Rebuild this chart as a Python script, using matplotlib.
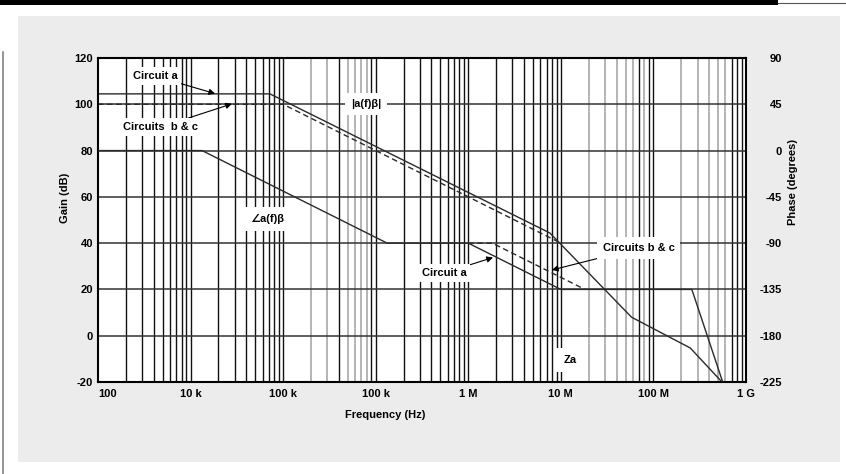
import matplotlib
matplotlib.use("Agg")
import matplotlib.pyplot as plt
from matplotlib.patches import Rectangle
from matplotlib.lines import Line2D

# Loop gain |a(f)β| in dB versus frequency in Hz
gain_a_freq = [1e2, 7.2e3, 7.6e6, 1.0e7, 5.8e7, 2.5e8, 5.5e8]
gain_a_db = [104.5, 104.5, 44.4, 39.5, 8.0, -5.3, -20.0]
gain_bc_freq = [1e2, 1.0e4, 1.0e7]
gain_bc_db = [100.0, 100.0, 40.0]

# Loop phase ∠a(f)β in degrees
phase_a_freq = [1e2, 1.33e3, 1.33e5, 1.0e6, 1.0e7, 2.6e8, 5.6e8]
phase_a_deg = [0, 0, -90, -90, -135, -135, -225]
phase_bc_freq = [1.0e6, 1.82e6, 1.82e7]
phase_bc_deg = [-90, -90, -135]

freq_ticks = [1e2, 1e3, 1e4, 1e5, 1e6, 1e7, 1e8, 1e9]
freq_labels = ['100', '10 k', '100 k', '100 k', '1 M', '10 M', '100 M', '1 G']
gain_ticks = list(range(-20, 121, 20))
phase_ticks = list(range(-225, 91, 45))

# grid lines that print in a lighter grey: (multiplier, decade exponent)
light_lines = {(2, 4), (3, 4), (5, 4), (6, 4), (7, 4), (8, 4),
               (2, 7), (3, 7), (4, 7), (5, 7), (6, 7), (8, 7),
               (2, 8), (3, 8), (4, 8), (5, 8), (6, 8)}

plt.rcParams['font.family'] = ['Liberation Sans', 'DejaVu Sans']
plt.rcParams['font.weight'] = 'bold'
plt.rcParams['axes.unicode_minus'] = False

W, H = 846, 474
fig = plt.figure(figsize=(W / 100, H / 100), dpi=100)
fig.patch.set_facecolor('white')

# page decorations: header bar, grey panel, margin rule
fig.add_artist(Rectangle((0, 1 - 5 / H), 778 / W, 5 / H, transform=fig.transFigure,
                         facecolor='black', edgecolor='none', zorder=0))
fig.add_artist(Line2D([778 / W, 1], [1 - 2.5 / H, 1 - 2.5 / H], transform=fig.transFigure,
                      color='#555555', lw=0.8))
fig.add_artist(Rectangle((18 / W, 1 - 462 / H), (840 - 18) / W, (462 - 16) / H,
                         transform=fig.transFigure, facecolor='#ececec',
                         edgecolor='none', zorder=0))
fig.add_artist(Line2D([3 / W, 3 / W], [0, 1 - 52 / H], transform=fig.transFigure,
                      color='#777777', lw=1.1))

ax = fig.add_axes([98 / W, 92 / H, 648 / W, 324 / H])
ax.set_facecolor('white')
ax.set_xscale('log')
ax.set_xlim(1e2, 1e9)
ax.set_ylim(-20, 120)

# logarithmic frequency grid
for d in range(2, 9):
    for k in range(1, 10):
        if k == 1 and d == 2:
            continue
        f = k * 10 ** d
        if (k, d) in light_lines:
            ax.axvline(f, color='#b4b4b4', lw=1.4, zorder=1)
        else:
            ax.axvline(f, color='#111111', lw=1.0, zorder=1)
for g in gain_ticks[1:-1]:
    ax.axhline(g, color='#333333', lw=1.1, zorder=1)

ax.plot(gain_a_freq, gain_a_db, color='#2a2a2a', lw=1.0, zorder=3)
ax.plot(gain_bc_freq, gain_bc_db, color='#2a2a2a', lw=1.0,
        linestyle=(0, (4, 2.5)), zorder=3)

ax.set_xticks(freq_ticks)
ax.set_xticklabels(freq_labels)
ax.get_xticklabels()[0].set_horizontalalignment('left')
ax.xaxis.set_minor_locator(matplotlib.ticker.NullLocator())
ax.set_yticks(gain_ticks)
ax.tick_params(axis='both', length=0, labelsize=8)
ax.tick_params(axis='x', pad=5)
ax.tick_params(axis='y', pad=3.5)
for s in ax.spines.values():
    s.set_linewidth(1.5)
    s.set_color('black')
    s.set_zorder(4)

ax2 = ax.twinx()
ax2.set_ylim(-225, 90)
ax2.set_yticks(phase_ticks)
ax2.tick_params(axis='y', length=0, labelsize=8, pad=26)
for lab in ax2.get_yticklabels():
    lab.set_horizontalalignment('right')
for s in ax2.spines.values():
    s.set_visible(False)
ax2.plot(phase_a_freq, phase_a_deg, color='#2a2a2a', lw=1.0, zorder=3)
ax2.plot(phase_bc_freq, phase_bc_deg, color='#2a2a2a', lw=1.0,
         linestyle=(0, (4, 2.5)), zorder=3)

fig.text(65 / W, 1 - 198 / H, 'Gain (dB)', rotation=90, ha='center', va='center',
         fontsize=8)
fig.text(793 / W, 1 - 182 / H, 'Phase (degrees)', rotation=90, ha='center',
         va='center', fontsize=8)
fig.text(385 / W, 1 - 415 / H, 'Frequency (Hz)', ha='center', va='center',
         fontsize=8)

box = dict(boxstyle='square,pad=0.35', facecolor='white', edgecolor='none')
arrow = dict(arrowstyle='-|>', color='black', lw=0.8, mutation_scale=9,
             shrinkA=0, shrinkB=0)
td = ax.transData

ax2.annotate('Circuit a', xy=(1.84e3, 104.6), xycoords=td,
             xytext=(413, 112.2), textcoords=td, ha='center', va='center',
             fontsize=8, bbox=box, arrowprops=arrow, zorder=6)
ax2.annotate('Circuits  b & c', xy=(2.8e3, 100.2), xycoords=td,
             xytext=(479, 90.2), textcoords=td, ha='center', va='center',
             fontsize=8, bbox=box, arrowprops=arrow, zorder=6)
ax2.annotate('Circuit a', xy=(1.85e6, 33.8), xycoords=td,
             xytext=(5.47e5, 27.1), textcoords=td, ha='center', va='center',
             fontsize=8, bbox=box, arrowprops=arrow, zorder=6)
ax2.annotate('Circuits b & c', xy=(8.0e6, 28.4), xycoords=td,
             xytext=(6.98e7, 37.9), textcoords=td, ha='center', va='center',
             fontsize=8, bbox=dict(boxstyle='square,pad=0.5', facecolor='white',
                                   edgecolor='none'),
             arrowprops=arrow, zorder=6)
ax2.text(7.85e4, 100.1, '|a(f)β|', transform=td, ha='center', va='center',
         fontsize=8, zorder=6,
         bbox=dict(boxstyle='square,pad=0.5', facecolor='white', edgecolor='none'))
ax2.text(6.69e3, 50.4, '∠a(f)β', transform=td, ha='center', va='center',
         fontsize=8, zorder=6,
         bbox=dict(boxstyle='square,pad=0.65', facecolor='white', edgecolor='none'))
ax2.text(1.26e7, -10.5, 'Za', transform=td, ha='center', va='center',
         fontsize=8, zorder=6,
         bbox=dict(boxstyle='square,pad=0.65', facecolor='white', edgecolor='none'))

fig.savefig('out.png', dpi=100)
